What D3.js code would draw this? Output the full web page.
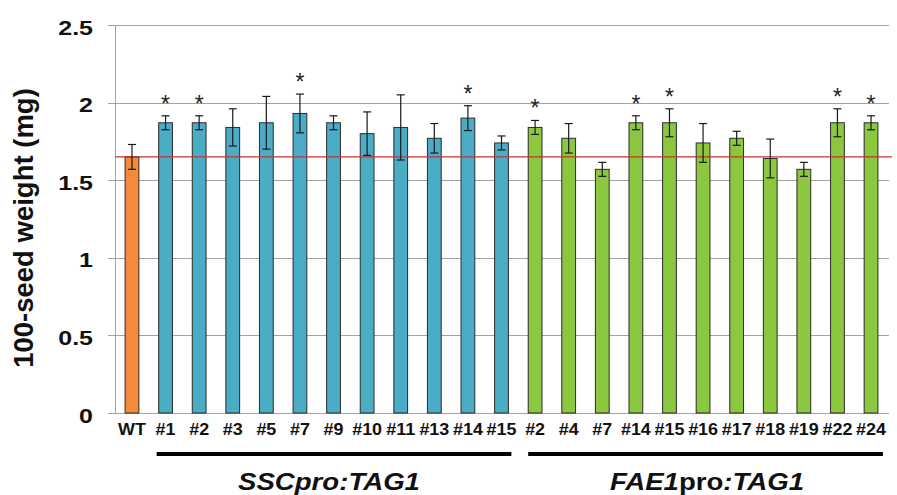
<!DOCTYPE html>
<html>
<head>
<meta charset="utf-8">
<script src="https://cdn.jsdelivr.net/npm/d3@7/dist/d3.min.js"></script>
<style>
html,body{margin:0;padding:0;background:#fff;}
svg{display:block;}
</style>
</head>
<body>
<svg id="chart" width="897" height="495"></svg>
<script>
// ---- data ----
const categories = ["WT","#1","#2","#3","#5","#7","#9","#10","#11","#13","#14","#15",
                    "#2","#4","#7","#14","#15","#16","#17","#18","#19","#22","#24"];
const groups = ["WT","SSC","SSC","SSC","SSC","SSC","SSC","SSC","SSC","SSC","SSC","SSC",
                "FAE1","FAE1","FAE1","FAE1","FAE1","FAE1","FAE1","FAE1","FAE1","FAE1","FAE1"];
const values = [1.65,1.87,1.87,1.84,1.87,1.93,1.87,1.80,1.84,1.77,1.90,1.74,
                1.84,1.77,1.57,1.87,1.87,1.74,1.77,1.64,1.57,1.87,1.87];
const errors = [0.08,0.045,0.045,0.12,0.17,0.125,0.045,0.14,0.21,0.095,0.08,0.045,
                0.045,0.095,0.045,0.045,0.09,0.125,0.045,0.125,0.045,0.09,0.045];
const significant = [false,true,true,false,false,true,false,false,false,false,true,false,
                     true,false,false,true,true,false,false,false,false,true,true];
const yTicks = [0,0.5,1,1.5,2,2.5];
const yTickLabels = ["0","0.5","1","1.5","2","2.5"];
const referenceValue = 1.65;
const yTitle = "100-seed weight (mg)";

// ---- layout ----
const svg = d3.select("#chart");
const pL = 115, pR = 888, pT = 25, pB = 413;
const FONT = "Liberation Sans, Arial, sans-serif";
const colors = {WT:"#F58B3A", SSC:"#4BACC6", FAE1:"#8CC83F"};
const idx = d3.range(categories.length);

const x = d3.scaleBand().domain(idx).range([pL, pR]).paddingInner(0.59).paddingOuter(0.3);
const y = d3.scaleLinear().domain([0, 2.5]).range([pB, pT]);

// gridlines
svg.append("g").selectAll("line").data(yTicks).join("line")
  .attr("x1", pL - 7).attr("x2", 889)
  .attr("y1", d => Math.round(y(d)) + 0.5).attr("y2", d => Math.round(y(d)) + 0.5)
  .attr("stroke", "#a3a3a3").attr("stroke-width", 1);

// vertical axis line
svg.append("line").attr("x1", pL + 0.5).attr("x2", pL + 0.5)
  .attr("y1", y(2.5)).attr("y2", y(0))
  .attr("stroke", "#a3a3a3").attr("stroke-width", 1);

// y tick labels
svg.append("g").selectAll("text").data(yTicks).join("text")
  .attr("transform", d => `translate(93,${y(d) + 9.5}) scale(1.25,1)`)
  .attr("text-anchor", "end")
  .attr("font-family", FONT).attr("font-weight", "bold").attr("font-size", 20).attr("fill", "#111")
  .text((d,i) => yTickLabels[i]);

// y title
svg.append("text")
  .attr("transform", `translate(33,228) rotate(-90)`)
  .attr("text-anchor", "middle")
  .attr("font-family", FONT)
  .attr("font-weight", "bold").attr("font-size", 27.5).attr("fill", "#111")
  .text(yTitle);

// bars
svg.append("g").selectAll("rect").data(idx).join("rect")
  .attr("x", i => x(i))
  .attr("width", x.bandwidth())
  .attr("y", i => y(values[i]))
  .attr("height", i => y(0) - y(values[i]))
  .attr("fill", i => colors[groups[i]])
  .attr("stroke", "#2a2a2a").attr("stroke-width", 1);

// reference line
svg.append("line")
  .attr("x1", pL).attr("x2", 892)
  .attr("y1", y(referenceValue)).attr("y2", y(referenceValue))
  .attr("stroke", "#C8322E").attr("stroke-width", 1.2);

// error bars
const eg = svg.append("g").attr("stroke", "#1a1a1a").attr("stroke-width", 1.2);
idx.forEach(i => {
  const cx = x(i) + x.bandwidth() / 2;
  const y1 = y(values[i] + errors[i]), y2 = y(values[i] - errors[i]);
  eg.append("line").attr("x1", cx).attr("x2", cx).attr("y1", y1).attr("y2", y2);
  eg.append("line").attr("x1", cx - 4).attr("x2", cx + 4).attr("y1", y1).attr("y2", y1);
  eg.append("line").attr("x1", cx - 4).attr("x2", cx + 4).attr("y1", y2).attr("y2", y2);
});

// significance stars
svg.append("g").selectAll("text").data(idx.filter(i => significant[i])).join("text")
  .attr("x", i => x(i) + x.bandwidth() / 2)
  .attr("y", i => y(values[i] + errors[i]) - 4)
  .attr("text-anchor", "middle")
  .attr("font-family", FONT)
  .attr("font-size", 23).attr("fill", "#222")
  .text("*");

// x labels
svg.append("g").selectAll("text").data(idx).join("text")
  .attr("transform", i => `translate(${x(i) + x.bandwidth() / 2},435) scale(1.12,1)`)
  .attr("text-anchor", "middle")
  .attr("font-family", FONT)
  .attr("font-weight", "bold").attr("font-size", 16).attr("fill", "#111")
  .text(i => categories[i]);

// group lines
const sscIdx = idx.filter(i => groups[i] === "SSC");
const faeIdx = idx.filter(i => groups[i] === "FAE1");
function groupLine(ids, x1off, x2off) {
  const a = x(ids[0]) + x1off;
  const b = x(ids[ids.length - 1]) + x.bandwidth() + x2off;
  svg.append("line").attr("x1", a).attr("x2", b).attr("y1", 454).attr("y2", 454)
    .attr("stroke", "#000").attr("stroke-width", 4);
}
groupLine(sscIdx, -2, 3);
groupLine(faeIdx, 0, 5);

const g1 = svg.append("text").attr("transform", "translate(329,490) scale(1.15,1)").attr("text-anchor", "middle")
  .attr("font-family", FONT).attr("font-weight", "bold")
  .attr("font-size", 24).attr("fill", "#111");
g1.append("tspan").attr("font-style", "italic").text("SSCpro:TAG1");

const g2 = svg.append("text").attr("transform", "translate(707,490) scale(1.15,1)").attr("text-anchor", "middle")
  .attr("font-family", FONT).attr("font-weight", "bold")
  .attr("font-size", 24).attr("fill", "#111");
g2.append("tspan").attr("font-style", "italic").text("FAE1");
g2.append("tspan").text("pro");
g2.append("tspan").attr("font-style", "italic").text(":TAG1");
</script>
</body>
</html>
